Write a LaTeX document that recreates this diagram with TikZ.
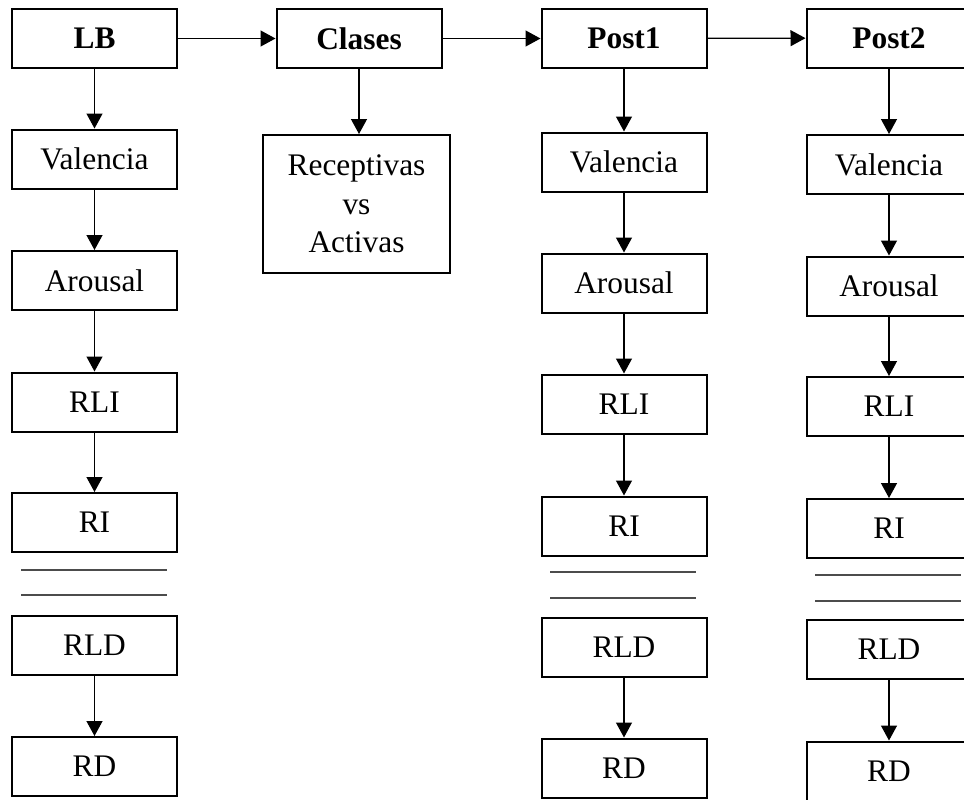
\documentclass[tikz,border=0pt]{standalone}
\usepackage{fontspec}
\setmainfont{Liberation Serif}
\usetikzlibrary{arrows.meta}

\tikzset{
  box/.style={draw, line width=1pt, minimum width=82.5pt, minimum height=29.5pt,
    inner sep=0pt, font=\fontsize{15.7}{19.3}\selectfont},
  head/.style={box, font=\fontsize{15.7}{19.3}\selectfont\bfseries},
  rule/.style={line width=0.6pt, black!70}
}

\begin{document}
\begin{tikzpicture}[x=0.5pt, y=-0.5pt, >={Triangle[width=8pt,length=7.5pt]}, line width=0.65pt]
      \useasboundingbox (0,0) rectangle (964,799);
      \draw
        (94.5,38.5) node[head] (lb){LB}
        (359,38.5) node[head] (clases){Clases}
        (624,38.5) node[head] (post1){Post1}
        (889,38) node[head] (post2){Post2}
        (94.5,159) node[box] (valencia1){Valencia}
        (94.5,280.5) node[box] (arousal1){Arousal}
        (94.5,402) node[box] (rli1){RLI}
        (94.5,522.5) node[box] (ri1){RI}
        (94.5,645) node[box] (rld1){RLD}
        (94.5,766.5) node[box] (rd1){RD}
        (356.5,204) node[box, minimum width=93.5pt, minimum height=69pt, align=center] (receptivas){Receptivas\\vs\\Activas}
        (624,162) node[box] (valencia2){Valencia}
        (624,283) node[box] (arousal2){Arousal}
        (624,404) node[box] (rli2){RLI}
        (624,526) node[box] (ri2){RI}
        (624,647) node[box] (rld2){RLD}
        (624,768) node[box] (rd2){RD}
        (889,164.5) node[box] (valencia3){Valencia}
        (889,286) node[box] (arousal3){Arousal}
        (889,406.5) node[box] (rli3){RLI}
        (889,528.5) node[box] (ri3){RI}
        (889,649.5) node[box] (rld3){RLD}
        (889,771) node[box] (rd3){RD};
      \begin{scope}[->]
        \draw (lb) to (clases);
        \draw (clases) to (post1);
        \draw (post1) to (post2);
        \draw (lb) to (valencia1);
        \draw (valencia1) to (arousal1);
        \draw (arousal1) to (rli1);
        \draw (rli1) to (ri1);
        \draw (rld1) to (rd1);
        \draw (clases.south) to (receptivas.north -| clases.south);
        \draw (post1) to (valencia2);
        \draw (valencia2) to (arousal2);
        \draw (arousal2) to (rli2);
        \draw (rli2) to (ri2);
        \draw (rld2) to (rd2);
        \draw (post2) to (valencia3);
        \draw (valencia3) to (arousal3);
        \draw (arousal3) to (rli3);
        \draw (rli3) to (ri3);
        \draw (rld3) to (rd3);
      \end{scope}
      \draw[rule] (21,570) -- (167,570) (21,595) -- (167,595);
      \draw[rule] (550,572) -- (696,572) (550,598) -- (696,598);
      \draw[rule] (815,575) -- (961,575) (815,601) -- (961,601);
    \end{tikzpicture}
\end{document}
